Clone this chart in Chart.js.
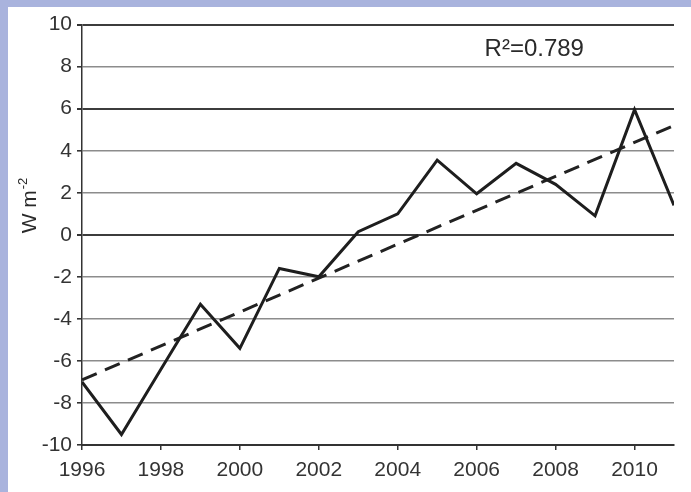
<!DOCTYPE html>
<html>
<head>
<meta charset="utf-8">
<script src="https://cdn.jsdelivr.net/npm/chart.js@4.4.1/dist/chart.umd.min.js"></script>
<style>
  html, body { margin: 0; padding: 0; }
  body { width: 691px; height: 492px; background: #a9b3dd; position: relative; overflow: hidden; }
  #box { position: absolute; left: 8px; top: 7px; width: 683px; height: 485px; background: #fff; }
  #myChart { display: block; }
</style>
</head>
<body>
<div id="box"><canvas id="myChart" width="683" height="485"></canvas></div>
<script>
// yearly values
const years = [1996, 1997, 1998, 1999, 2000, 2001, 2002, 2003, 2004, 2005, 2006, 2007, 2008, 2009, 2010, 2011];
const flux = [-7.0, -9.5, -6.4, -3.3, -5.4, -1.6, -2.0, 0.15, 1.0, 3.55, 1.95, 3.4, 2.4, 0.9, 5.95, 1.4];

// linear fit, end points
const trendYears = [1996, 2011];
const trendValues = [-6.9, 5.2];

const yTicks = [-10, -8, -6, -4, -2, 0, 2, 4, 6, 8, 10];
const darkGrid = [10, 6, 0];
const fitText = 'R\u00b2=0.789';
const yTitle = 'W m';
const yTitleSup = '-2';

function toPoints(xs, ys) {
  let pts = [];
  xs.forEach((x, i) => {
    pts.push({x: x, y: ys[i]});
  });
  return pts;
}

const extraText = {
  id: 'extraText',
  afterDraw(chart) {
    const ctx = chart.ctx;
    const xs = chart.scales.x;
    const ys = chart.scales.y;
    ctx.save();
    ctx.fillStyle = '#2a2a2a';
    ctx.font = '24px "Liberation Sans", Arial, sans-serif';
    ctx.textAlign = 'left';
    ctx.textBaseline = 'middle';
    ctx.fillText(fitText, xs.getPixelForValue(2006.2), ys.getPixelForValue(8.8));
    ctx.restore();

    // rotated axis title with superscript
    ctx.save();
    ctx.fillStyle = '#2a2a2a';
    ctx.translate(22, 199);
    ctx.rotate(-Math.PI / 2);
    ctx.font = '21px "Liberation Sans", Arial, sans-serif';
    const w1 = ctx.measureText(yTitle).width;
    ctx.font = '13px "Liberation Sans", Arial, sans-serif';
    const w2 = ctx.measureText(yTitleSup).width;
    let start = -(w1 + w2) / 2;
    ctx.textAlign = 'left';
    ctx.textBaseline = 'middle';
    ctx.font = '21px "Liberation Sans", Arial, sans-serif';
    ctx.fillText(yTitle, start, 0);
    ctx.font = '13px "Liberation Sans", Arial, sans-serif';
    ctx.fillText(yTitleSup, start + w1 + 1, -7);
    ctx.restore();
  }
};

var ctx = document.getElementById('myChart').getContext('2d');
var myChart = new Chart(ctx, {
  type: 'line',
  data: {
    datasets: [{
      label: 'flux',
      data: toPoints(years, flux),
      borderColor: '#1e1e1e',
      borderWidth: 3,
      pointRadius: 0,
      tension: 0,
      fill: false
    }, {
      label: 'trend',
      data: toPoints(trendYears, trendValues),
      borderColor: '#222',
      borderWidth: 3,
      borderDash: [16, 9],
      pointRadius: 0,
      tension: 0,
      fill: false
    }]
  },
  options: {
    responsive: false,
    animation: false,
    layout: { padding: { top: 14, right: 17, left: 0, bottom: 0 } },
    plugins: {
      legend: { display: false },
      tooltip: { enabled: false }
    },
    scales: {
      x: {
        type: 'linear',
        min: 1996,
        max: 2011,
        afterFit: function (scale) { scale.height = 47; },
        ticks: {
          stepSize: 2,
          includeBounds: false,
          autoSkip: false,
          maxRotation: 0,
          padding: 8,
          color: '#333',
          font: { family: '"Liberation Sans", Arial, sans-serif', size: 21 },
          callback: function (v) { return String(v); }
        },
        grid: {
          drawOnChartArea: false,
          drawTicks: true,
          tickLength: 5,
          tickColor: '#333',
          lineWidth: 1.5
        },
        border: { display: true, color: '#333', width: 2 }
      },
      y: {
        min: -10,
        max: 10,
        afterFit: function (scale) { scale.width = 74; },
        afterBuildTicks: function (scale) {
          scale.ticks = yTicks.map(v => ({value: v}));
        },
        ticks: {
          padding: 5,
          color: '#333',
          font: { family: '"Liberation Sans", Arial, sans-serif', size: 21 },
          callback: function (v) { return String(v); }
        },
        grid: {
          color: function (c) {
            if (c.tick && c.tick.value === -10) return '#333';
            return c.tick && darkGrid.includes(c.tick.value) ? '#3c3c3c' : '#8c8c8c';
          },
          lineWidth: function (c) {
            return c.tick && darkGrid.includes(c.tick.value) ? 2 : 1.6;
          },
          tickLength: 5,
          tickColor: '#333'
        },
        border: { display: true, color: '#333', width: 1.5 }
      }
    }
  },
  plugins: [extraText]
});
</script>
</body>
</html>
